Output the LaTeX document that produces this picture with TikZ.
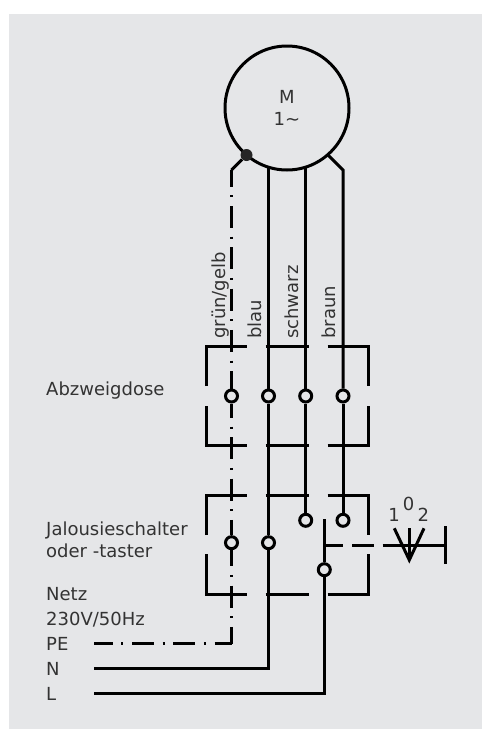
\documentclass[tikz,border=0pt]{standalone}
\usepackage{fontspec}
\setmainfont{DejaVu Sans}
\definecolor{bggray}{HTML}{E5E6E8}
\definecolor{txtgray}{HTML}{333333}
\tikzset{
  wire/.style={line width=3pt,line cap=butt},
  pewire/.style={wire,dash pattern=on 22pt off 8.65pt on 2pt off 8.65pt},
  klemme/.style={circle,draw,line width=3pt,minimum size=12pt,inner sep=0pt},
  lbl/.style={anchor=base west,inner sep=0pt,text=txtgray,font=\fontsize{18}{18}\selectfont},
  vlbl/.style={lbl,rotate=90},
}
\begin{document}
\begin{tikzpicture}[x=1pt,y=-1pt]
  \useasboundingbox (0,0) rectangle (482,729);
  \fill[bggray] (9,14) rectangle (482,729);
  % motor
  \node[circle,draw,line width=3pt,minimum size=124pt,inner sep=0pt,align=center,text=txtgray,
    font=\fontsize{18}{22}\selectfont] (motor) at (287,108) {M\\1\symbol{126}};
  \node[circle,fill=black!85,minimum size=12pt,inner sep=0pt] (erde) at (246.5,155) {};
  \coordinate (cPE) at (231.5,170);
  \coordinate (cB) at (343,170);
  \coordinate (mN) at (268.5,167);
  \coordinate (mS) at (305.7,167);
  \coordinate (mB) at (328,155);
  % klemmen
  \node[klemme] (dosePE) at (231.5,396) {};
  \node[klemme] (doseN) at (268.5,396) {};
  \node[klemme] (doseS) at (305.7,396) {};
  \node[klemme] (doseB) at (343,396) {};
  \node[klemme] (tastPE) at (231.5,542.7) {};
  \node[klemme] (tastN) at (268.5,542.7) {};
  \node[klemme] (tastS) at (305.7,520.3) {};
  \node[klemme] (tastB) at (343,520.3) {};
  \node[klemme] (tastL) at (324.3,569.7) {};
  % leitungen
  \coordinate (inPE) at (94,643.7);
  \coordinate (inN) at (94,668.7);
  \coordinate (inL) at (94,693.3);
  \coordinate (ePE) at (231.5,643.7);
  \coordinate (eN) at (268.5,668.7);
  \coordinate (eL) at (324.3,693.3);
  \draw[wire] (erde) -- (cPE);
  \draw[pewire,dash phase=5.3pt] (cPE) -- (dosePE);
  \draw[pewire,dash phase=7.5pt] (dosePE) -- (tastPE);
  \draw[pewire,dash phase=6pt] (tastPE) -- (ePE);
  \draw[pewire,dash phase=3.3pt] (inPE) -- (ePE);
  \draw[wire] (mN) -- (doseN);
  \draw[wire] (mS) -- (doseS);
  \draw[wire] (mB) -- (cB) -- (doseB);
  \draw[wire] (doseN) -- (tastN);
  \draw[wire] (doseS) -- (tastS);
  \draw[wire] (doseB) -- (tastB);
  \draw[wire] (tastN) -- (eN) -- (inN);
  \draw[wire] (tastL) -- (eL) -- (inL);
  % abzweigdose
  \draw[wire] (206.3,386) -- (206.3,346.7) -- (246.7,346.7);
  \draw[wire] (265.7,346.7) -- (308.7,346.7);
  \draw[wire] (327.7,346.7) -- (368,346.7) -- (368,386);
  \draw[wire] (206.3,406) -- (206.3,445.7) -- (246.7,445.7);
  \draw[wire] (265.7,445.7) -- (308.7,445.7);
  \draw[wire] (327.7,445.7) -- (368,445.7) -- (368,406);
  % schalter
  \draw[wire] (206.3,535) -- (206.3,495) -- (246.7,495);
  \draw[wire] (265.7,495) -- (308.7,495);
  \draw[wire] (327.7,495) -- (368,495) -- (368,535);
  \draw[wire] (206.3,554.3) -- (206.3,594.3) -- (246.7,594.3);
  \draw[wire] (265.7,594.3) -- (308.7,594.3);
  \draw[wire] (327.7,594.3) -- (368,594.3) -- (368,554.3);
  \coordinate (swTop) at (324.3,519.3);
  \draw[wire] (swTop) -- (tastL);
  \draw[wire] (324.3,545) -- (343.3,545);
  \draw[wire] (352.3,545) -- (374.3,545);
  \draw[wire] (382.7,545) -- (445,545);
  \draw[wire] (445,526) -- (445,564);
  \draw[wire] (394.3,528.3) -- (409.3,560) -- (424,528.3);
  \draw[wire] (409.3,528.3) -- (409.3,560);
  % texte
  \node[vlbl] (tGG) at (225,339) {grün/gelb};
  \node[vlbl] (tBl) at (261,339) {blau};
  \node[vlbl] (tSw) at (298.3,339) {schwarz};
  \node[vlbl] (tBr) at (335,339) {braun};
  \node[lbl] (tDose) at (46,395) {Abzweigdose};
  \node[lbl] (tJal) at (46,535) {Jalousieschalter};
  \node[lbl] (tOder) at (46,557) {oder -taster};
  \node[lbl] (tNetz) at (46,600) {Netz};
  \node[lbl] (tVolt) at (46,625) {230V/50Hz};
  \node[lbl] (tPE) at (46,650) {PE};
  \node[lbl] (tN) at (46,675.7) {N};
  \node[lbl] (tL) at (46,700) {L};
  \node[lbl,anchor=base] (s1) at (394,521) {1};
  \node[lbl,anchor=base] (s0) at (408.5,510) {0};
  \node[lbl,anchor=base] (s2) at (423.3,521) {2};
\end{tikzpicture}
\end{document}
